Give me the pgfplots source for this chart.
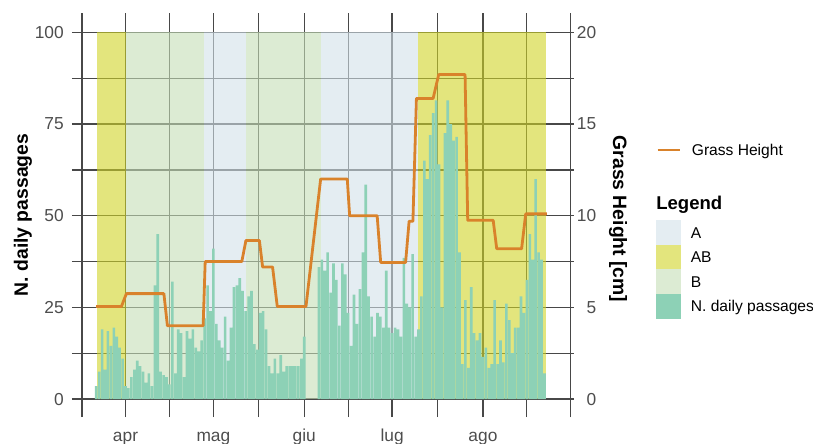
\documentclass[border=0pt]{standalone}
\usepackage{fontspec}
\setmainfont{Liberation Sans}
\usepackage{pgfplots}
\pgfplotsset{compat=1.18}
\usepackage{pgfplotstable}

\definecolor{rectA}{HTML}{D2E1E9}
\definecolor{rectAB}{HTML}{D0D426}
\definecolor{rectB}{HTML}{C5DEB6}
\definecolor{passc}{HTML}{8DD1B6}
\definecolor{grassc}{HTML}{D9822B}
\definecolor{gridc}{HTML}{484848}
\definecolor{tickc}{HTML}{4D4D4D}

\newcommand\tickfont{\fontsize{13}{15}\selectfont}
\newcommand\titlefont{\fontsize{14.5}{17}\selectfont\bfseries}
\newcommand\legfont{\fontsize{11.7}{14}\selectfont}
\newcommand\legtitlefont{\fontsize{13.9}{16}\selectfont\bfseries}

\pgfplotsset{
  sqkey/.style={legend image code/.code={\fill[#1] (0pt,-9pt) rectangle (18pt,9pt);}},
}

% daily passages, day 0 = 1 April
\pgfplotstableread{
day n
-10 3.5
-9 7.5
-8 19
-7 8
-6 18.5
-5 14.5
-4 19.5
-3 17
-2 14
-1 11
0 3.5
1 3
2 6
3 8
4 10.5
5 9
6 7.5
7 4.5
8 7
9 3.5
10 31
11 45
12 7.5
13 6.5
14 6
15 4
16 32
17 7
18 19
19 18
20 6
21 18.5
22 16.5
23 19
24 14
25 13
26 16
27 22
28 31
29 24
30 41
31 20.5
32 16
33 14
34 22.5
35 10.5
36 19.5
37 30.5
38 31
39 33
40 29.5
41 24
42 28
43 29.5
44 15
45 13.5
46 23.5
47 24
48 19
49 9
50 7
51 11
52 7
53 12
54 7.5
55 9
56 9
57 9
58 9
59 9
60 11
61 17
66 36
67 38
68 35
69 40
70 29
71 37
72 32.5
73 20
74 37
75 34
76 23.5
77 14.5
78 28.5
79 20.5
80 30
81 40
82 58.5
83 28
84 22.5
85 17
86 23.5
87 22.5
88 19.5
89 35
90 19.5
91 18
92 19.5
93 19
94 17
95 38.5
96 26
97 25
98 39.5
99 17
100 19
101 28
102 65
103 60
104 72
105 78
106 81.5
107 64
108 25
109 72.5
110 81.5
111 75
112 70.5
113 71.5
114 40
115 9.5
116 27
117 8.5
118 30.5
119 18
120 16
121 18
122 11.5
123 14
124 8.5
125 9.5
126 27
127 9.5
128 16
129 10
130 26
131 21.5
132 12.5
133 19.5
134 19.5
135 28
136 23.5
137 32.5
138 45
139 38
140 60
141 40
142 38
143 7
}\passages

% grass height [cm]
\pgfplotstableread{
day h
-10 5.05
-1.4 5.05
0.3 5.75
13.1 5.75
14.3 4.0
26.5 4.0
27.2 7.5
39.7 7.5
41.1 8.65
45.7 8.65
46.8 7.2
50.2 7.2
51.8 5.05
61.6 5.05
66.6 12
75.7 12
76.5 10
85.9 10
87.1 7.45
95.6 7.45
96.8 9.7
98.1 9.7
99.3 16.4
105 16.4
106.9 17.7
115.9 17.7
116.8 9.75
125.5 9.75
126.7 8.2
135.2 8.2
136.6 10.1
143.8 10.1
}\grass

\begin{document}
\begin{tikzpicture}

\begin{axis}[
  at={(61.5pt,19.5pt)}, anchor=south west,
  scale only axis, width=366.4pt, height=303pt,
  xmin=-14.85, xmax=151.9, ymin=-4.9, ymax=105.3,
  set layers, clip=false,
  separate axis lines,
  x axis line style={draw=none},
  y axis line style={draw=gridc, line width=0.95pt, -},
  xtick={0,30,61,91,122}, xticklabels={apr,mag,giu,lug,ago},
  minor xtick={15,45.5,76,106.5,136.8},
  ytick={0,25,50,75,100}, minor ytick={12.5,37.5,62.5,87.5},
  ytick pos=left,
  grid=both,
  major grid style={gridc, line width=0.95pt},
  minor grid style={gridc, line width=0.95pt},
  tick align=outside, major tick length=7.5pt, minor tick length=7.5pt,
  xtick style={draw=none},
  ytick style={gridc, line width=0.95pt},
  /pgf/number format/assume math mode=true,
  tick label style={font=\tickfont, color=tickc, inner sep=0pt},
  yticklabel style={xshift=-6pt},
  xticklabel style={anchor=base, yshift=-10.5pt},
  ylabel={N. daily passages},
  every axis y label/.style={at={(axis description cs:-0.1208,0.5)}, rotate=90, anchor=center, font=\titlefont},
  legend cell align=left,
  legend style={at={(axis description cs:1.1750,0.4876)}, anchor=north west,
    draw=none, fill=none, inner sep=0pt, row sep=0pt, column sep=7.5pt,
    nodes={inner sep=0pt, text height=8.4pt, text depth=0pt, font=\legfont}},
]
% managed areas
\addplot[forget plot, draw=none, fill=rectAB, fill opacity=0.6, on layer=pre main] coordinates {(-9.8,0) (-9.8,100) (0,100) (0,0)} -- cycle;
\addplot[forget plot, draw=none, fill=rectB, fill opacity=0.6, on layer=pre main] coordinates {(0,0) (0,100) (26.8,100) (26.8,0)} -- cycle;
\addplot[forget plot, draw=none, fill=rectA, fill opacity=0.6, on layer=pre main] coordinates {(26.8,0) (26.8,100) (41.1,100) (41.1,0)} -- cycle;
\addplot[forget plot, draw=none, fill=rectB, fill opacity=0.6, on layer=pre main] coordinates {(41.1,0) (41.1,100) (66.8,100) (66.8,0)} -- cycle;
\addplot[forget plot, draw=none, fill=rectA, fill opacity=0.6, on layer=pre main] coordinates {(66.8,0) (66.8,100) (99.8,100) (99.8,0)} -- cycle;
\addplot[forget plot, draw=none, fill=rectAB, fill opacity=0.6, on layer=pre main] coordinates {(99.8,0) (99.8,100) (143.5,100) (143.5,0)} -- cycle;

\addplot[forget plot, ybar, bar width=0.88, bar shift=0pt, fill=passc, draw=none] table[x=day, y=n] {\passages};

\addlegendimage{sqkey=rectA!60!white}
\addlegendentry{A}
\addlegendimage{sqkey=rectAB!60!white}
\addlegendentry{AB}
\addlegendimage{sqkey=rectB!60!white}
\addlegendentry{B}
\addlegendimage{sqkey=passc}
\addlegendentry{N. daily passages}

\node[anchor=west, inner sep=0pt, font=\legtitlefont] at (axis description cs:1.1750,0.5248) {Legend};
\end{axis}

\begin{axis}[
  at={(61.5pt,19.5pt)}, anchor=south west,
  scale only axis, width=366.4pt, height=303pt,
  xmin=-14.85, xmax=151.9, ymin=-0.98, ymax=21.06,
  axis x line=none, axis y line*=right,
  axis line style={draw=gridc, line width=0.95pt, -},
  ytick={0,5,10,15,20}, minor ytick={2.5,7.5,12.5,17.5},
  tick align=outside, major tick length=2.25pt, minor tick length=2.25pt,
  tick style={gridc, line width=0.95pt},
  /pgf/number format/assume math mode=true,
  yticklabel style={font=\tickfont, color=tickc, inner sep=0pt, anchor=east, xshift=17.25pt},
  ylabel={Grass Height [cm]},
  every axis y label/.style={at={(axis description cs:1.0972,0.49)}, rotate=-90, anchor=center, font=\titlefont},
  legend cell align=left,
  legend style={at={(axis description cs:1.1750,0.6609)}, anchor=west,
    draw=none, fill=none, inner sep=0pt, row sep=0pt, column sep=7.5pt,
    nodes={inner sep=0pt, text height=8.4pt, text depth=0pt, font=\legfont}},
]
\addplot[grassc, line width=2.1pt, line join=round] table[x=day, y=h] {\grass};
\addlegendentry{Grass Height}
\end{axis}

\pgfresetboundingbox
\useasboundingbox (0,0) rectangle (609.75pt,332.25pt);
\end{tikzpicture}
\end{document}
